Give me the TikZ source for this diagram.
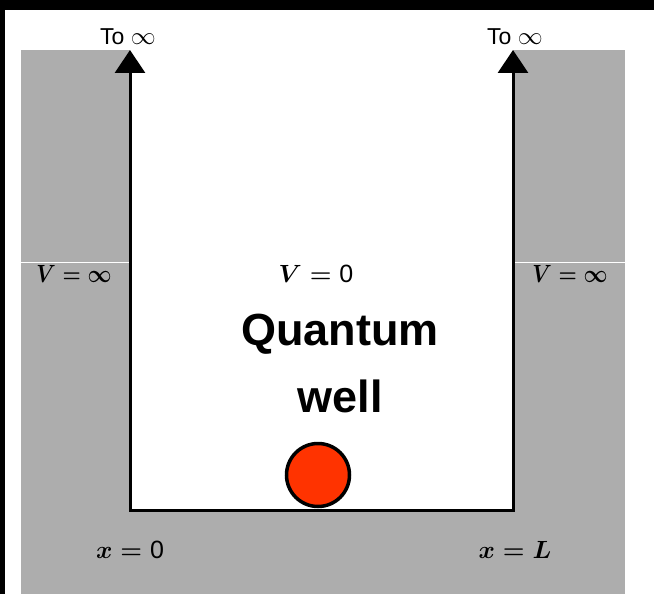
\documentclass[tikz,border=0pt]{standalone}
\usepackage{fontspec}
\setsansfont{Liberation Sans}
\usepackage{tikz}
\usetikzlibrary{arrows.meta,positioning}
\usepackage{xcolor}
\definecolor{ballred}{HTML}{FF3300}
\definecolor{barriergray}{HTML}{ADADAD}

\begin{document}
\begin{tikzpicture}[
  x=1pt, y=1pt,
  font=\sffamily,
  wellwall/.style={
    line width=3pt,
    {Triangle[width=30pt,length=23pt]}-{Triangle[width=30pt,length=23pt]}
  },
  toinf/.style={
    font=\fontsize{23}{23}\sffamily,
    anchor=base,
    inner sep=0pt
  },
  potlabel/.style={
    font=\fontsize{25}{25}\selectfont\boldmath,
    anchor=base,
    inner sep=0pt
  },
  barlabel/.style={
    potlabel,
    xscale=0.84,
    transform shape
  },
  title/.style={
    font=\fontsize{45}{67}\sffamily\bfseries,
    align=center,
    anchor=base,
    inner sep=0pt
  },
  particle/.style={
    circle,
    draw=black,
    line width=3.5pt,
    fill=ballred,
    minimum size=63pt,
    inner sep=0pt
  }
]
  \useasboundingbox (0,0) rectangle (654,-594);

  % Frame edges
  \fill[black] (0,0) rectangle (654,-10);
  \fill[black] (0,0) rectangle (5,-594);

  % Barrier regions (V = infinity)
  \fill[barriergray] (21,-50) rectangle (130,-594);
  \fill[barriergray] (513,-50) rectangle (625,-594);
  \fill[barriergray] (130,-510) rectangle (513,-594);
  \draw[white, line width=1pt] (21,-262) -- (130,-262) (513,-262) -- (625,-262);

  % Well walls and floor
  \coordinate (ltop) at (130,-50);
  \coordinate (lbase) at (130,-510);
  \coordinate (rbase) at (513,-510);
  \coordinate (rtop) at (513,-50);
  \draw[wellwall] (ltop) -- (lbase) -- (rbase) -- (rtop);

  % Labels
  \node[toinf] (toinfL) at (128,-45) {To $\infty$};
  \node[toinf] (toinfR) at (515,-45) {To $\infty$};
  \node[barlabel] (vinfL) at (74,-282) {$V=\infty$};
  \node[barlabel] (vinfR) at (570,-282) {$V=\infty$};
  \node[potlabel] (vzero) at (316,-282) {$V=\textsf{0}$};
  \node[title] (qwell) at (340,-412) {Quantum\\well};
  \node[potlabel] (xzero) at (130,-558) {$x=\textsf{0}$};
  \node[potlabel] (xell) at (515,-558) {$x=L$};

  % Particle
  \node[particle] (ball) at (318,-475) {};

\end{tikzpicture}
\end{document}
